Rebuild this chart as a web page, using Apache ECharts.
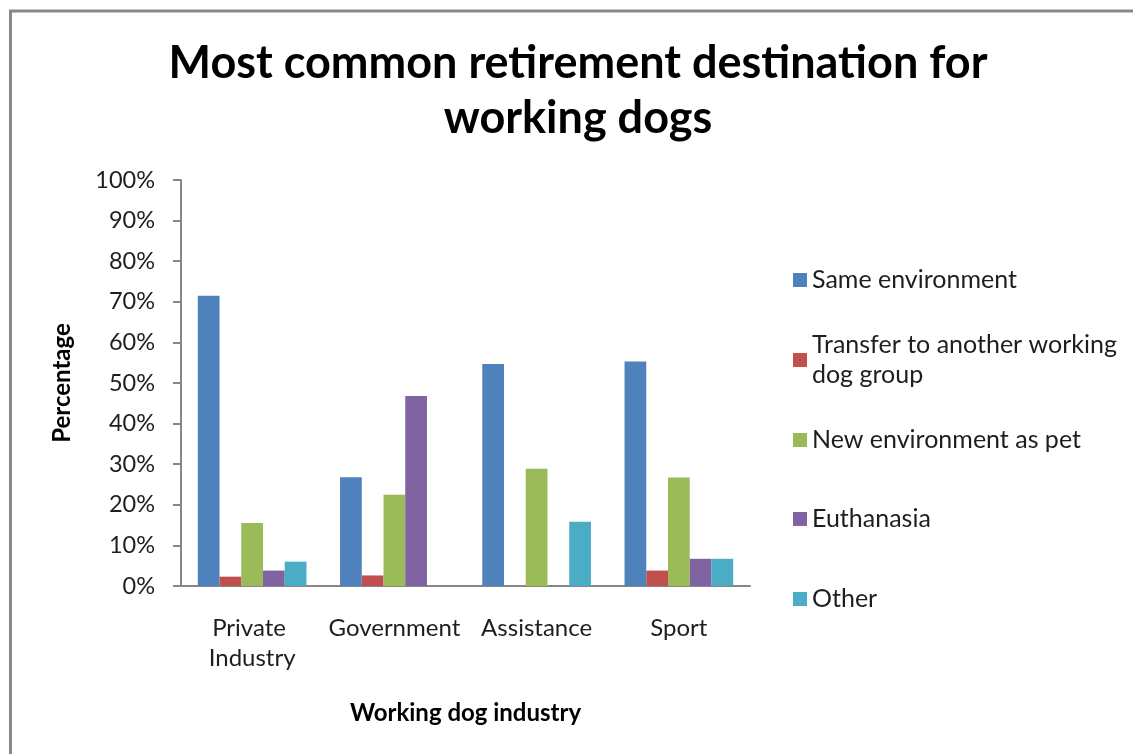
<!DOCTYPE html>
<html>
<head>
<meta charset="utf-8">
<script src="https://cdn.jsdelivr.net/npm/echarts@6/dist/echarts.min.js"></script>
<style>
  html, body { margin: 0; padding: 0; background: #fff; }
  #chart { width: 1133px; height: 754px; }
</style>
</head>
<body>
<div id="chart"></div>
<script>
// Working dog industries on the category axis
const industries = ['Private Industry', 'Government', 'Assistance', 'Sport'];

// Share of retired dogs (%) per destination, one array per series
const sameEnvironment = [71.5, 26.8, 54.7, 55.3];
const transferGroup   = [2.3, 2.6, 0, 3.8];
const newEnvAsPet     = [15.5, 22.5, 28.9, 26.7];
const euthanasia      = [3.8, 46.8, 0, 6.7];
const other           = [6.0, 0, 15.8, 6.7];

const seriesNames = [
  'Same environment',
  'Transfer to another working dog group',
  'New environment as pet',
  'Euthanasia',
  'Other'
];
const seriesValues = [sameEnvironment, transferGroup, newEnvAsPet, euthanasia, other];
const palette = ['#4F81BD', '#C0504D', '#9BBB59', '#8064A2', '#4BACC6'];

// Percent tick labels for the value axis
const yTicks = [0, 10, 20, 30, 40, 50, 60, 70, 80, 90, 100];

const FONT = 'Lato';
const TEXT = '#1e1e1e';
const chart = echarts.init(document.getElementById('chart'), null, { renderer: 'canvas' });

// One small legend block per entry, so each swatch sits beside the first line of its label
const legendTops = [260, 310, 420, 499, 579];
const legends = seriesNames.map((name, i) => ({
  orient: 'vertical',
  left: 788,
  top: legendTops[i],
  itemWidth: 14,
  itemHeight: 14,
  itemGap: 0,
  icon: 'rect',
  selectedMode: false,
  data: [{
    name: name,
    textStyle: i === 1 ? { padding: [30, 0, 0, 0] } : {}
  }],
  formatter: n => n === seriesNames[1] ? 'Transfer to another working\ndog group' : n,
  textStyle: { fontFamily: FONT, fontSize: 25, color: TEXT, lineHeight: 30 }
}));

const option = {
  backgroundColor: '#fff',
  animation: false,
  title: {
    text: 'Most common retirement destination for\nworking dogs',
    left: 573,
    top: 31,
    textAlign: 'center',
    textStyle: { fontFamily: FONT, fontWeight: 'bold', fontSize: 45, lineHeight: 55, color: '#000' }
  },
  legend: legends,
  grid: { left: 181, top: 180, width: 569, height: 406 },
  xAxis: {
    type: 'category',
    data: industries,
    name: 'Working dog industry',
    nameLocation: 'middle',
    nameGap: 115,
    nameTextStyle: { fontFamily: FONT, fontWeight: 'bold', fontSize: 24, color: '#000' },
    axisLine: { lineStyle: { color: '#868686', width: 2 } },
    axisTick: { show: false },
    axisLabel: {
      fontFamily: FONT, fontSize: 24, color: TEXT, lineHeight: 30,
      margin: 27, interval: 0, width: 140, overflow: 'break'
    }
  },
  yAxis: {
    type: 'value',
    min: yTicks[0],
    max: yTicks[yTicks.length - 1],
    interval: yTicks[1] - yTicks[0],
    name: 'Percentage',
    nameLocation: 'middle',
    nameGap: 107,
    nameTextStyle: { fontFamily: FONT, fontWeight: 'bold', fontSize: 24, color: '#000' },
    splitLine: { show: false },
    axisLine: { show: true, lineStyle: { color: '#868686', width: 2 } },
    axisTick: { show: true, length: 8, lineStyle: { color: '#868686', width: 2 } },
    axisLabel: { fontFamily: FONT, fontSize: 23.5, color: TEXT, margin: 26, formatter: '{value}%' }
  },
  series: seriesNames.map((name, i) => ({
    name: name,
    type: 'bar',
    data: seriesValues[i],
    barGap: '0%',
    barCategoryGap: '23.6%',
    itemStyle: { color: palette[i] }
  })),
  graphic: [{
    type: 'rect',
    shape: { x: 10.5, y: 11, width: 1400, height: 1000 },
    style: { fill: 'none', stroke: '#888', lineWidth: 3 },
    silent: true
  }]
};

chart.setOption(option);
</script>
</body>
</html>
